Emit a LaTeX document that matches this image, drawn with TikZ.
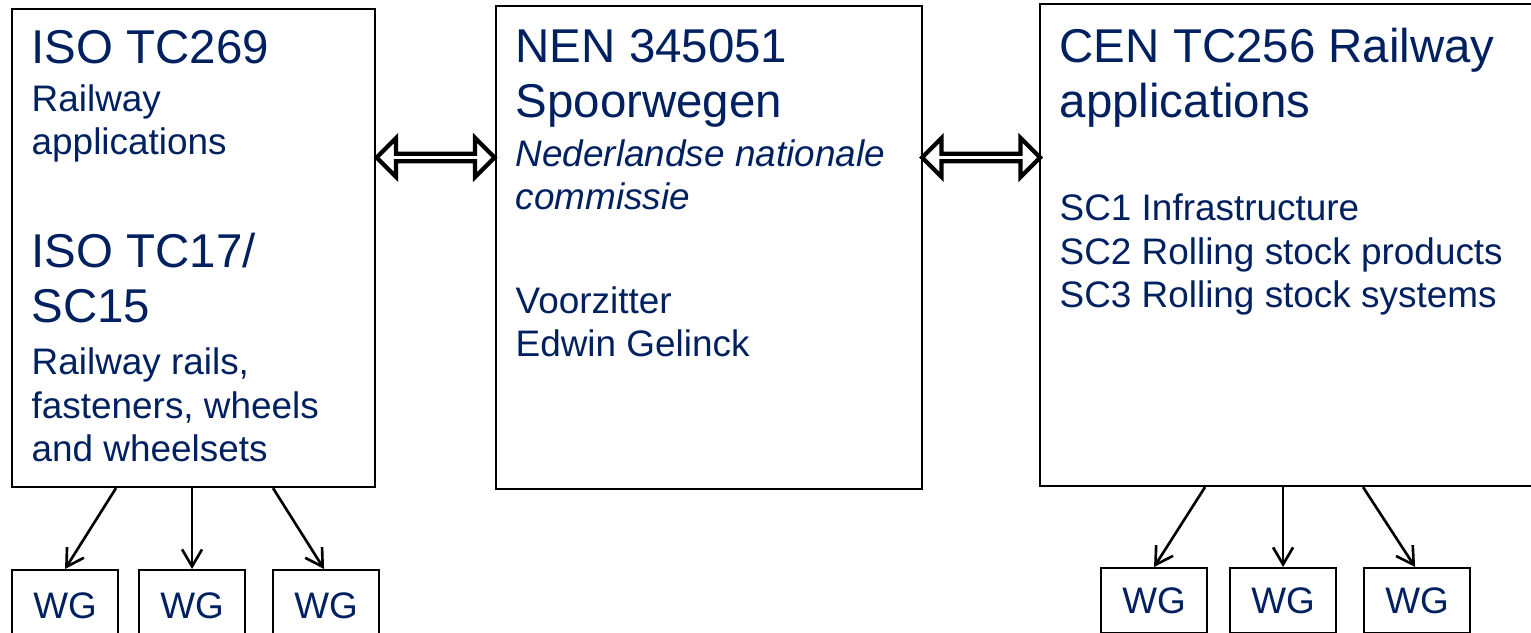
\documentclass[tikz,border=0pt]{standalone}
\usepackage{fontspec}
\setmainfont{Liberation Sans}
\usetikzlibrary{arrows.meta,shapes.arrows,calc}
\definecolor{navy}{RGB}{0,32,96}

\begin{document}
\begin{tikzpicture}
  [box/.style={draw, line width=0.6pt, anchor=north west, inner sep=0pt},
   wgbox/.style={box, minimum width=1.06cm, text=navy,
                 font=\fontsize{10.5}{12.5}\selectfont},
   txt/.style={text=navy, inner sep=0pt, anchor=base west, align=left},
   big/.style={txt, font=\fontsize{13.5}{15.9}\selectfont},
   small/.style={txt, font=\fontsize{10.5}{12.5}\selectfont},
   link/.style={line width=0.75pt, -{Straight Barb[length=1.7mm,width=2mm]}},
   dbl/.style={double arrow, draw, line width=1.2pt, inner sep=0pt,
               minimum height=1.18cm, minimum width=0.39cm,
               double arrow head extend=0.09cm}]
  \useasboundingbox (0, 0) rectangle (15.31, 6.33);
  % the three committees
  \node[box, minimum width=3.63cm, minimum height=4.78cm] (iso) at (0.11, 6.25) {};
  \node[box, minimum width=4.26cm, minimum height=4.83cm] (nen) at (4.95, 6.28) {};
  \node[box, minimum width=5.40cm, minimum height=4.82cm] (cen) at (10.39, 6.30) {};
  % (base of a text block = its last line)
  \node[big] (isoa) at ([shift={(0.20, -0.56)}]iso.north west) {ISO TC269};
  \node[small] (isob) at ([shift={(0.20, -1.47)}]iso.north west) {Railway\\applications};
  \node[big] (isoc) at ([shift={(0.20, -3.15)}]iso.north west) {ISO TC17/\\SC15};
  \node[small] (isod) at ([shift={(0.20, -4.54)}]iso.north west)
    {Railway rails,\\fasteners, wheels\\and wheelsets};
  \node[big] (nena) at ([shift={(0.20, -1.13)}]nen.north west) {NEN 345051\\Spoorwegen};
  \node[small, font=\fontsize{10.5}{12.5}\selectfont\itshape] (nenb)
    at ([shift={(0.20, -2.05)}]nen.north west) {Nederlandse nationale\\commissie};
  \node[small] (nenc) at ([shift={(0.20, -3.52)}]nen.north west) {Voorzitter\\Edwin Gelinck};
  \node[big] (cena) at ([shift={(0.20, -1.15)}]cen.north west)
    {CEN TC256 Railway\\applications};
  \node[small] (cenb) at ([shift={(0.20, -3.05)}]cen.north west)
    {SC1 Infrastructure\\SC2 Rolling stock products\\SC3 Rolling stock systems};
  % links between them
  \node[dbl] (isonen) at ($(iso.north east)!0.5!(nen.north west) + (0, -1.51)$) {};
  \node[dbl] (nencen) at ($(nen.north east)!0.5!(cen.north west) + (0, -1.535)$) {};
  % working groups
  \node[wgbox, minimum height=0.72cm] (isowga) at (0.11, 0.64) {WG};
  \node[wgbox, minimum height=0.72cm] (isowgb) at (1.38, 0.64) {WG};
  \node[wgbox, minimum height=0.72cm] (isowgc) at (2.72, 0.64) {WG};
  \node[wgbox, minimum height=0.65cm] (cenwga) at (11.00, 0.66) {WG};
  \node[wgbox, minimum height=0.65cm] (cenwgb) at (12.29, 0.66) {WG};
  \node[wgbox, minimum height=0.65cm] (cenwgc) at (13.63, 0.66) {WG};
  \draw[link] ([xshift=1.05cm]iso.south west) -- (isowga.north);
  \draw[link] (isowgb.north |- iso.south) -- (isowgb.north);
  \draw[link] ([xshift=2.62cm]iso.south west) -- ([xshift=-0.02cm]isowgc.north);
  \draw[link] ([xshift=1.66cm]cen.south west) -- (cenwga.north);
  \draw[link] (cenwgb.north |- cen.south) -- (cenwgb.north);
  \draw[link] ([xshift=3.24cm]cen.south west) -- ([xshift=-0.02cm]cenwgc.north);
\end{tikzpicture}
\end{document}
